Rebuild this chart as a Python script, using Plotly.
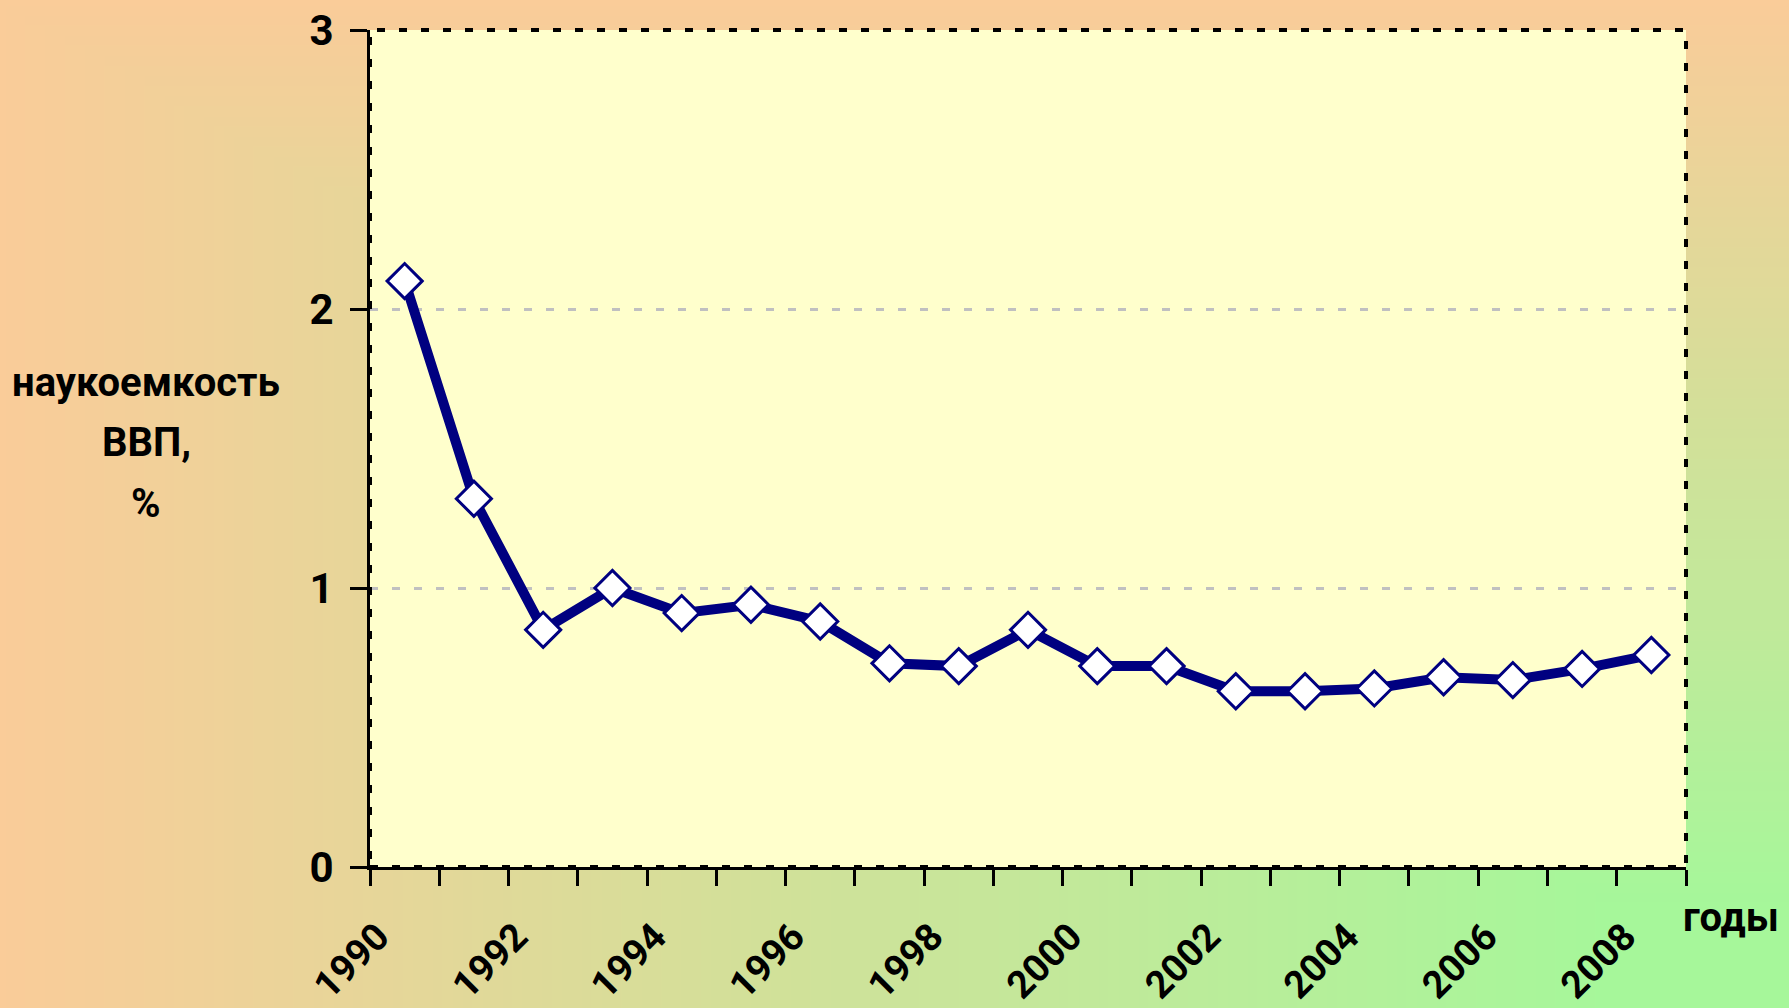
import base64, struct, zlib
import plotly.graph_objects as go

# ---- data ----
years = list(range(1990, 2009))
values = [2.10, 1.32, 0.85, 1.00, 0.91, 0.94, 0.88, 0.73, 0.72, 0.85,
          0.72, 0.72, 0.63, 0.63, 0.64, 0.68, 0.67, 0.71, 0.76]
y_title_lines = ["наукоемкость", "ВВП,", "%"]
x_title = "годы"

W, H = 1789, 1008
ML, MR, MT, MB = 370, 103, 30, 141
PW, PH = W - ML - MR, H - MT - MB

FONT = "Liberation Sans Narrow, Arial Narrow, Roboto, Liberation Sans, sans-serif"
FS = 42

# ---- gradient background as PNG (orange -> green towards bottom-right corner) ----
def make_png(w, h):
    c0 = (250, 204, 153)
    c1 = (166, 247, 154)
    rows = []
    for j in range(h):
        v = j / (h - 1)
        row = bytearray([0])
        for i in range(w):
            u = i / (w - 1)
            t = min(u, v) / 0.9
            t = max(0.0, min(1.0, t))
            row += bytes(int(round(c0[k] + (c1[k] - c0[k]) * t)) for k in range(3))
        rows.append(bytes(row))
    raw = b"".join(rows)
    def chunk(tag, data):
        return struct.pack(">I", len(data)) + tag + data + struct.pack(">I", zlib.crc32(tag + data) & 0xffffffff)
    png = b"\x89PNG\r\n\x1a\n"
    png += chunk(b"IHDR", struct.pack(">IIBBBBB", w, h, 8, 2, 0, 0, 0))
    png += chunk(b"IDAT", zlib.compress(raw, 9))
    png += chunk(b"IEND", b"")
    return "data:image/png;base64," + base64.b64encode(png).decode()

bg = make_png(180, 100)

xs = [y + 0.5 for y in years]

fig = go.Figure()
fig.add_trace(go.Scatter(
    x=xs, y=values, mode="lines+markers",
    line=dict(color="#000080", width=10),
    marker=dict(symbol="diamond", size=27, color="white",
                line=dict(color="#000080", width=3)),
    hoverinfo="x+y", showlegend=False,
))

bold = dict(family=FONT, size=FS, color="black", weight="bold")
xtick_font = dict(family=FONT, size=38, color="black", weight="bold")
title_font = dict(family=FONT, size=40, color="black", weight="bold")

annotations = []
line_y = [382, 443, 503]
for txt, yy in zip(y_title_lines, line_y):
    annotations.append(dict(text=txt, xref="paper", yref="paper",
                            x=(146 - ML) / PW, y=1 - (yy - MT) / PH,
                            xanchor="center", yanchor="middle", showarrow=False,
                            font=title_font))
annotations.append(dict(text=x_title, xref="paper", yref="paper",
                        x=(1731 - ML) / PW, y=1 - (917 - MT) / PH,
                        xanchor="center", yanchor="middle", showarrow=False, font=title_font))

fig.update_layout(
    width=W, height=H,
    margin=dict(l=ML, r=MR, t=MT, b=MB, autoexpand=False),
    paper_bgcolor="#FACC99",
    plot_bgcolor="#FFFFCC",
    font=dict(family=FONT, size=FS, color="black"),
    images=[dict(source=bg, xref="paper", yref="paper",
                 x=-ML / PW, y=1 + MT / PH, sizex=W / PW, sizey=H / PH,
                 xanchor="left", yanchor="top", sizing="stretch", layer="below")],
    xaxis=dict(range=[1990, 2009], tick0=1990, dtick=2,
               showgrid=False, zeroline=False,
               showline=True, linecolor="black", linewidth=3,
               ticks="outside", ticklen=16, tickwidth=3, tickcolor="black",
               tickangle=-45, tickfont=xtick_font,
               ticklabelstandoff=13, ticklabelshift=8,
               minor=dict(dtick=1, tick0=1990, ticks="outside", ticklen=16, tickwidth=3,
                          tickcolor="black", showgrid=False)),
    yaxis=dict(range=[0, 3], tick0=0, dtick=1,
               showgrid=True, gridcolor="#C0C0C0", gridwidth=3, griddash="8px,14px",
               zeroline=False,
               showline=True, linecolor="black", linewidth=3,
               ticks="outside", ticklen=17, tickwidth=3, tickcolor="black",
               ticklabelstandoff=8, tickfont=bold),
    shapes=[
        dict(type="rect", xref="paper", yref="paper", x0=0, x1=1, y0=0, y1=1,
             fillcolor="#FFFFCC", line=dict(width=0), layer="below"),
        dict(type="rect", xref="paper", yref="paper", x0=0, x1=1, y0=0, y1=1,
             line=dict(color="black", width=4, dash="8px,14px"), layer="above"),
    ],
    annotations=annotations,
)

fig.write_html("out.html", config={"displayModeBar": False},
               post_script="document.body.style.margin='0';document.body.style.overflow='hidden';")
